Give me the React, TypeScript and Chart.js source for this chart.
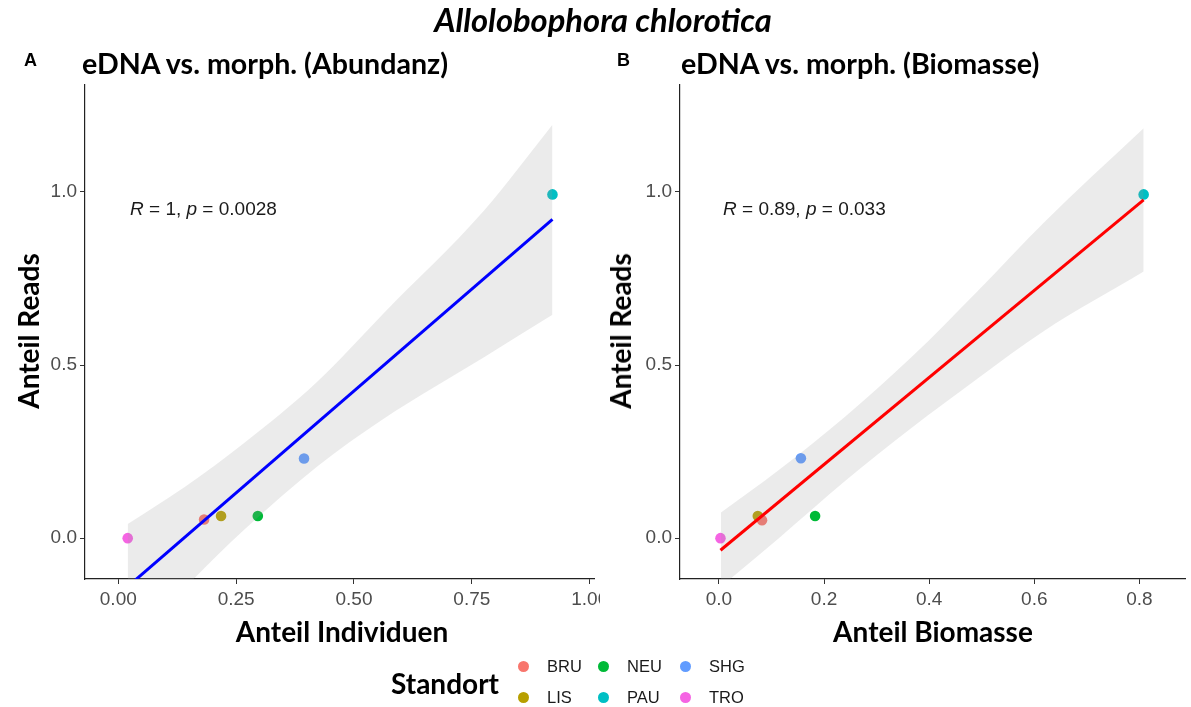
import React, { useEffect, useRef } from "react";
import { Chart, registerables } from "chart.js";
Chart.register(...registerables);

// ---------- data ----------
const sites = ["BRU", "LIS", "NEU", "PAU", "SHG", "TRO"];
const siteColors = ["#F8766D", "#B79F00", "#00BA38", "#00BFC4", "#619CFF", "#F564E3"];

// Panel A: Anteil Individuen vs Anteil Reads
const abundX = [0.182, 0.218, 0.296, 0.921, 0.394, 0.02];
const abundY = [0.054, 0.064, 0.064, 0.993, 0.23, 0.0];
// Panel B: Anteil Biomasse vs Anteil Reads
const biomX = [0.082, 0.074, 0.183, 0.808, 0.156, 0.003];
const biomY = [0.052, 0.064, 0.064, 0.993, 0.231, 0.0];

// fitted lines (end points)
const fitAX = [0.02, 0.921];
const fitAY = [-0.14, 0.921];
const fitBX = [0.003, 0.808];
const fitBY = [-0.035, 0.977];

// confidence bands
const bandAX = [0.02, 0.141, 0.267, 0.422, 0.563, 0.775, 0.921];
const bandAUpper = [0.041, 0.148, 0.275, 0.452, 0.65, 0.945, 1.194];
const bandALower = [-0.32, -0.144, 0.024, 0.207, 0.345, 0.522, 0.645];
const bandBX = [0.004, 0.114, 0.24, 0.365, 0.491, 0.617, 0.808];
const bandBUpper = [0.074, 0.197, 0.351, 0.521, 0.712, 0.91, 1.184];
const bandBLower = [-0.14, 0.0, 0.165, 0.317, 0.46, 0.597, 0.77];

// ticks
const xTicksA = [0, 0.25, 0.5, 0.75, 1.0];
const xTickLabelsA = ["0.00", "0.25", "0.50", "0.75", "1.00"];
const xTicksB = [0, 0.2, 0.4, 0.6, 0.8];
const xTickLabelsB = ["0.0", "0.2", "0.4", "0.6", "0.8"];
const yTicks = [0, 0.5, 1.0];
const yTickLabels = ["0.0", "0.5", "1.0"];

const xRangeA = [-0.0706, 1.0106];
const xRangeB = [-0.074, 0.888];
const yRange = [-0.118, 1.309];

const TICK_FONT = "'Liberation Sans', Arial, sans-serif";
const TITLE_FONT = "Lato, 'Open Sans', sans-serif";

type PanelCfg = {
  xs: number[]; ys: number[];
  fitX: number[]; fitY: number[]; fitColor: string;
  bandX: number[]; bandU: number[]; bandL: number[];
  xTicks: number[]; xLabels: string[]; xRange: number[];
  yAxisWidth: number; padRight: number;
};

function makeConfig(p: PanelCfg): any {
  const datasets: any[] = [];
  datasets.push({
    type: "line",
    data: p.fitX.map((x, i) => ({ x, y: p.fitY[i] })),
    borderColor: p.fitColor,
    borderWidth: 3,
    pointRadius: 0,
    fill: false,
    order: 0,
  });
  datasets.push({
    type: "line",
    data: p.bandX.map((x, i) => ({ x, y: p.bandU[i] })),
    borderColor: "rgba(0,0,0,0)",
    borderWidth: 0,
    pointRadius: 0,
    cubicInterpolationMode: "monotone",
    fill: "+1",
    backgroundColor: "rgba(153,153,153,0.2)",
    order: 1,
  });
  datasets.push({
    type: "line",
    data: p.bandX.map((x, i) => ({ x, y: p.bandL[i] })),
    borderColor: "rgba(0,0,0,0)",
    borderWidth: 0,
    pointRadius: 0,
    cubicInterpolationMode: "monotone",
    fill: false,
    order: 2,
  });
  sites.forEach((s, i) => {
    datasets.push({
      type: "scatter",
      label: s,
      data: [{ x: p.xs[i], y: p.ys[i] }],
      backgroundColor: siteColors[i],
      borderWidth: 0,
      pointRadius: 5.3,
      order: 3,
    });
  });
  return {
    type: "scatter",
    data: { datasets },
    options: {
      responsive: false,
      animation: false,
      events: [],
      layout: { padding: { left: 0, right: p.padRight, top: 85, bottom: 0 } },
      plugins: { legend: { display: false }, tooltip: { enabled: false }, title: { display: false } },
      scales: {
        x: {
          type: "linear",
          min: p.xRange[0],
          max: p.xRange[1],
          afterBuildTicks: (s: any) => { s.ticks = p.xTicks.map((v) => ({ value: v })); },
          afterFit: (s: any) => { s.height = 128; s.paddingLeft = 0; s.paddingRight = 0; },
          ticks: {
            callback: (_v: any, i: number) => p.xLabels[i],
            color: "#4d4d4d",
            font: { family: TICK_FONT, size: 19 },
            padding: 4,
            maxRotation: 0,
            autoSkip: false,
          },
          grid: { display: true, drawOnChartArea: false, drawTicks: true, tickLength: 5, color: "#333333", lineWidth: 1 },
          border: { display: true, color: "#222222", width: 1.2 },
        },
        y: {
          type: "linear",
          min: yRange[0],
          max: yRange[1],
          afterBuildTicks: (s: any) => { s.ticks = yTicks.map((v) => ({ value: v })); },
          afterFit: (s: any) => { s.width = p.yAxisWidth; s.paddingTop = 0; s.paddingBottom = 0; },
          ticks: {
            callback: (_v: any, i: number) => yTickLabels[i],
            color: "#4d4d4d",
            font: { family: TICK_FONT, size: 19 },
            padding: 3,
            autoSkip: false,
          },
          grid: { display: true, drawOnChartArea: false, drawTicks: true, tickLength: 5, color: "#333333", lineWidth: 1 },
          border: { display: true, color: "#222222", width: 1.2 },
        },
      },
    },
  };
}

function Panel(props: { cfg: PanelCfg; left: number; width: number }) {
  const ref = useRef<HTMLCanvasElement>(null);
  useEffect(() => {
    if (!ref.current) return;
    const chart = new Chart(ref.current, makeConfig(props.cfg));
    return () => chart.destroy();
  }, []);
  return (
    <canvas
      ref={ref}
      width={props.width}
      height={707}
      style={{ position: "absolute", left: props.left, top: 0, width: props.width, height: 707 }}
    />
  );
}

const abs = (x: number, y: number, extra: any = {}): any => ({
  position: "absolute",
  left: x,
  top: y,
  whiteSpace: "nowrap",
  lineHeight: 1,
  ...extra,
});

export default function App() {
  const cfgA: PanelCfg = {
    xs: abundX, ys: abundY, fitX: fitAX, fitY: fitAY, fitColor: "#0000FF",
    bandX: bandAX, bandU: bandAUpper, bandL: bandALower,
    xTicks: xTicksA, xLabels: xTickLabelsA, xRange: xRangeA,
    yAxisWidth: 85, padRight: 3,
  };
  const cfgB: PanelCfg = {
    xs: biomX, ys: biomY, fitX: fitBX, fitY: fitBY, fitColor: "#FF0000",
    bandX: bandBX, bandU: bandBUpper, bandL: bandBLower,
    xTicks: xTicksB, xLabels: xTickLabelsB, xRange: xRangeB,
    yAxisWidth: 80, padRight: 0,
  };
  const titleStyle = { fontFamily: TITLE_FONT, fontWeight: 700, fontSize: 28, color: "#000" };
  const panelTitle = { ...titleStyle, fontSize: 28.6 };
  const centered = { transform: "translate(-50%,-50%)" };
  const legendRows = [666, 697];
  const legendCols = [523, 603, 685];
  return (
    <div style={{ position: "absolute", left: 0, top: 0, width: 1191, height: 707, background: "#fff", overflow: "hidden" }}>
      <Panel cfg={cfgA} left={0} width={600} />
      <Panel cfg={cfgB} left={600} width={591} />

      <div style={abs(603, 20, { ...centered, ...titleStyle, fontSize: 32.7, fontStyle: "italic" })}>
        Allolobophora chlorotica
      </div>

      <div style={abs(24, 60, { transform: "translateY(-50%)", fontFamily: TICK_FONT, fontWeight: 700, fontSize: 18 })}>A</div>
      <div style={abs(617, 60, { transform: "translateY(-50%)", fontFamily: TICK_FONT, fontWeight: 700, fontSize: 18 })}>B</div>

      <div style={abs(82, 63, { transform: "translateY(-50%)", ...panelTitle })}>eDNA vs. morph. (Abundanz)</div>
      <div style={abs(681, 63, { transform: "translateY(-50%)", ...panelTitle })}>eDNA vs. morph. (Biomasse)</div>

      <div style={abs(342, 631, { ...centered, ...titleStyle })}>Anteil Individuen</div>
      <div style={abs(933, 631, { ...centered, ...titleStyle })}>Anteil Biomasse</div>

      <div style={abs(28, 331, { transform: "translate(-50%,-50%) rotate(-90deg)", ...titleStyle })}>Anteil Reads</div>
      <div style={abs(620, 331, { transform: "translate(-50%,-50%) rotate(-90deg)", ...titleStyle })}>Anteil Reads</div>

      <div style={abs(130, 208, { transform: "translateY(-50%)", fontFamily: TICK_FONT, fontSize: 19, color: "#1a1a1a" })}>
        <i>R</i> = 1, <i>p</i> = 0.0028
      </div>
      <div style={abs(723, 208, { transform: "translateY(-50%)", fontFamily: TICK_FONT, fontSize: 19, color: "#1a1a1a" })}>
        <i>R</i> = 0.89, <i>p</i> = 0.033
      </div>

      <div style={abs(445, 683, { ...centered, ...titleStyle })}>Standort</div>
      {sites.map((s, i) => {
        const col = Math.floor(i / 2);
        const row = i % 2;
        const cx = legendCols[col];
        const cy = legendRows[row];
        return (
          <React.Fragment key={s}>
            <div style={{ position: "absolute", left: cx - 5.5, top: cy - 5.5, width: 11, height: 11, borderRadius: "50%", background: siteColors[i] }} />
            <div style={abs(cx + 24, cy, { transform: "translateY(-50%)", fontFamily: TICK_FONT, fontSize: 16.5, color: "#1a1a1a" })}>{s}</div>
          </React.Fragment>
        );
      })}
    </div>
  );
}
